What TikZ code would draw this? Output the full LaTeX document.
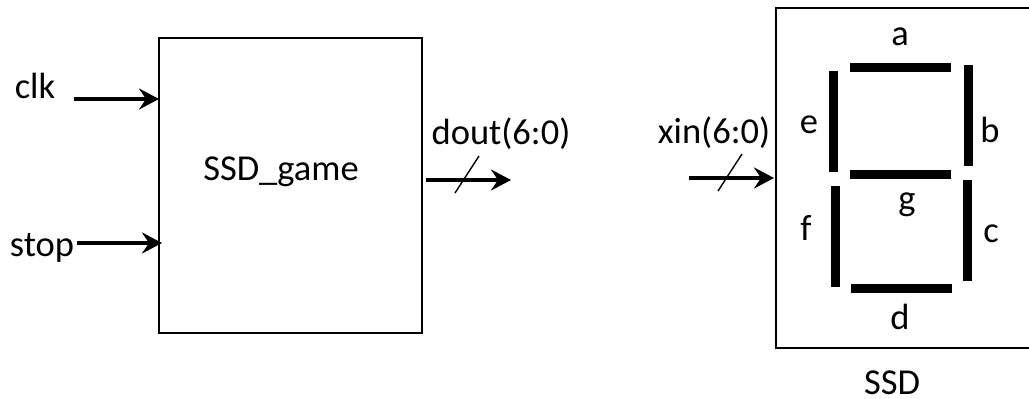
\documentclass[tikz,border=0pt]{standalone}
\usepackage{fontspec}
\setmainfont{Carlito}
\usetikzlibrary{positioning,arrows.meta}

\begin{document}
\begin{tikzpicture}
    [x=1pt,y=-1pt,
     block/.style={rectangle,draw=black,line width=1.3pt,inner sep=0pt},
     seghoriz/.style={rectangle,fill=black,inner sep=0pt,minimum width=101pt,minimum height=9pt},
     segvert/.style={rectangle,fill=black,inner sep=0pt,minimum width=9pt,minimum height=101pt},
     txt/.style={font=\fontsize{36.5}{36.5}\selectfont,inner sep=0pt,anchor=base},
     sig/.style={line width=3.6pt,-{Stealth[length=20pt,width=21pt,inset=7pt]}},
     bus/.style={line width=1.4pt}]
    \useasboundingbox (0,0) rectangle (1029,399);

    % left block
    \node[block,minimum width=263pt,minimum height=295pt] (game) at (290.5,185.5) {};
    \node[txt] (gamelabel) at (281,180) {SSD\_game};
    \node[txt] (clk) at (35,98) {clk};
    \node[txt] (stop) at (42,256) {stop};
    \node[txt] (dout) at (501,144) {dout(6:0)};

    \coordinate (clkstart) at (74,99);
    \coordinate (clkend) at (159,99);
    \coordinate (stopstart) at (77,243);
    \coordinate (stopend) at (162,243);
    \coordinate (doutstart) at (426,180);
    \coordinate (doutend) at (511,180);
    \coordinate (doutlow) at (455,193);
    \coordinate (douthigh) at (479,156);

    \draw[sig] (clkstart) -- (clkend);
    \draw[sig] (stopstart) -- (stopend);
    \draw[sig] (doutstart) -- (doutend);
    \draw[bus] (doutlow) -- (douthigh);

    % right block
    \node[block,minimum width=280pt,minimum height=340pt] (ssd) at (916,178) {};
    \node[txt] (ssdlabel) at (892,394) {SSD};
    \node[txt] (xin) at (714,143) {xin(6:0)};

    \coordinate (xinstart) at (689,178);
    \coordinate (xinend) at (774,178);
    \coordinate (xinlow) at (718,191);
    \coordinate (xinhigh) at (742,154);

    \draw[sig] (xinstart) -- (xinend);
    \draw[bus] (xinlow) -- (xinhigh);

    % segments
    \node[seghoriz] (sega) at (900.5,67.5) {};
    \node[segvert] (segb) at (968.5,115.5) {};
    \node[segvert] (segc) at (967.5,230.5) {};
    \node[seghoriz] (segd) at (901.5,288.5) {};
    \node[segvert] (sege) at (833.5,121.5) {};
    \node[segvert] (segf) at (835.5,236.5) {};
    \node[seghoriz] (segg) at (900.5,174.5) {};

    \node[txt] (laba) at (900,45) {a};
    \node[txt] (labb) at (990,142) {b};
    \node[txt] (labc) at (991,242) {c};
    \node[txt] (labd) at (900,329) {d};
    \node[txt] (labe) at (809,133) {e};
    \node[txt] (labf) at (806,240) {f};
    \node[txt] (labg) at (907,210) {g};
\end{tikzpicture}
\end{document}
